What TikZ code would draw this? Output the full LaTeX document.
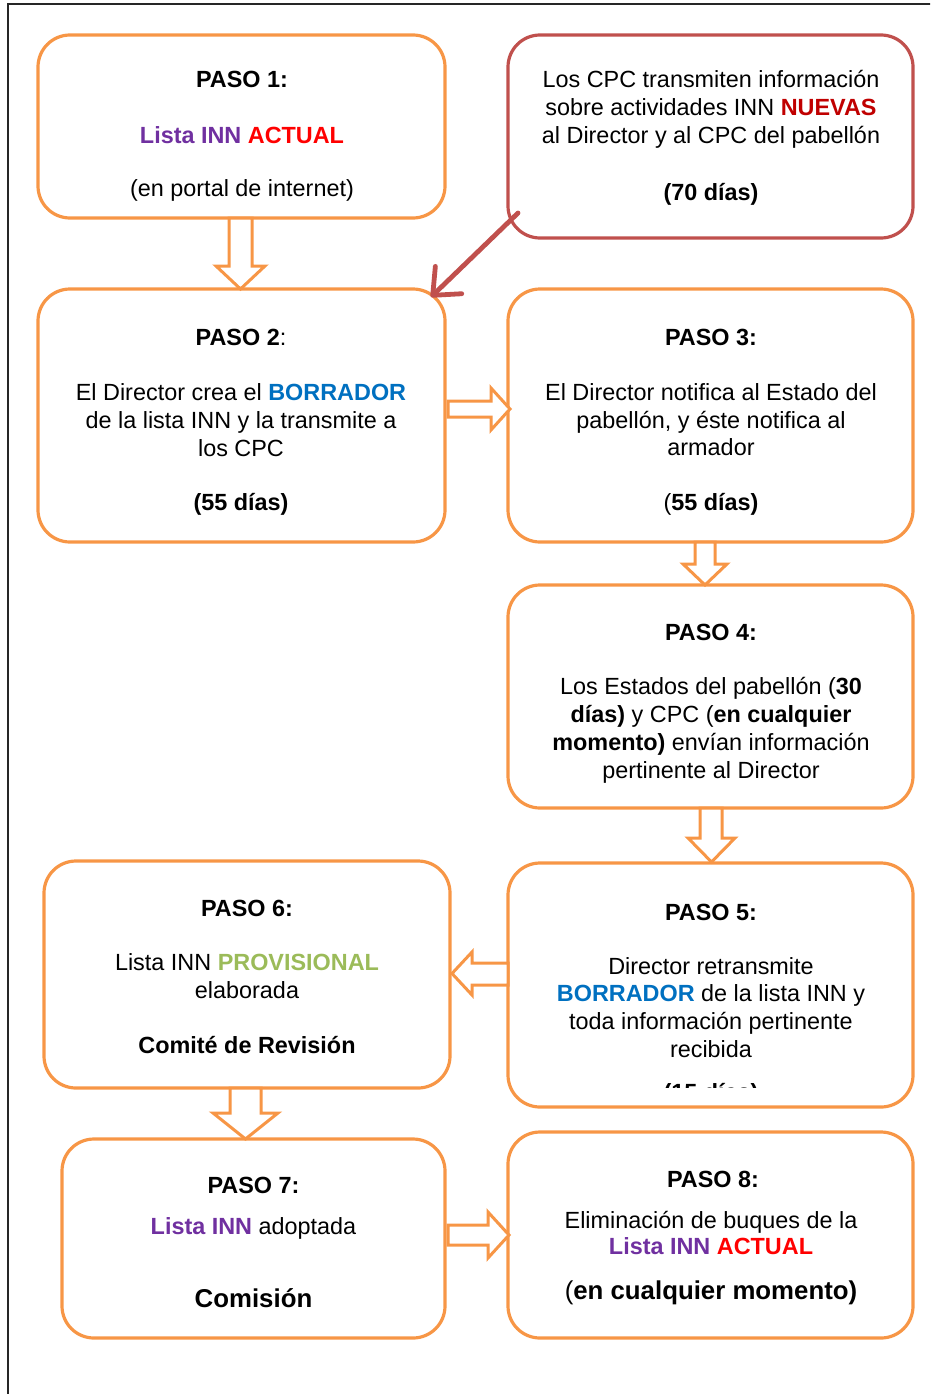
\documentclass[tikz,border=0pt]{standalone}
\usepackage{fontspec}
\setmainfont{Liberation Sans}
\usetikzlibrary{arrows.meta}
\definecolor{orng}{HTML}{F79646}
\definecolor{rbox}{HTML}{C0504D}
\definecolor{purp}{HTML}{7030A0}
\definecolor{brd}{HTML}{FF0000}
\definecolor{dred}{HTML}{C00000}
\definecolor{blu}{HTML}{0070C0}
\definecolor{grn}{HTML}{9BBB59}
\newcommand{\pu}[1]{\textcolor{purp}{\textbf{#1}}}
\newcommand{\rd}[1]{\textcolor{brd}{\textbf{#1}}}
\newcommand{\bl}[1]{\textcolor{blu}{\textbf{#1}}}
\tikzset{
  box/.style={draw=orng, line width=3.2pt, rounded corners=32pt, inner sep=0pt, minimum width=405pt},
  redbox/.style={box, draw=rbox},
  t/.style={anchor=base, inner sep=0pt, font=\fontsize{23.4}{28}\selectfont},
  tbig/.style={anchor=base, inner sep=0pt, font=\fontsize{25.8}{30}\selectfont},
  barrow/.style={draw=orng, fill=white, line width=3pt, line join=miter},
  redarrow/.style={draw=rbox, line width=4.8pt, line cap=round, -{Straight Barb[length=22pt,width=38pt,round]}}
}
\begin{document}
\begin{tikzpicture}[x=1pt,y=-1pt]
\useasboundingbox (0,0) rectangle (930,1394);
% outer frame
\begin{scope}
\clip (0,0) rectangle (930,1394);
\draw[line width=1.5pt, black!85] (8,4) rectangle (960,1430);
\end{scope}

% boxes
\node[box, minimum width=407pt, minimum height=183pt] (b1) at (241.5,126.5) {};
\node[redbox, minimum height=203pt] (rb) at (710.5,136.5) {};
\node[box, minimum width=407pt, minimum height=253pt] (b2) at (241.5,415.5) {};
\node[box, minimum height=253pt] (b3) at (710.5,415.5) {};
\node[box, minimum height=223pt] (b4) at (710.5,696.5) {};
\node[box, minimum height=244pt] (b5) at (710.5,985) {};
\node[box, minimum width=406pt, minimum height=227pt] (b6) at (247,974.5) {};
\node[box, minimum width=383pt, minimum height=199pt] (b7) at (253.5,1238.5) {};
\node[box, minimum height=206pt] (b8) at (710.5,1235) {};

% box 1
\node[t] (t1a) at (242,88) {\textbf{PASO 1:}};
\node[t] (t1b) at (242,143) {\pu{Lista INN} \rd{ACTUAL}};
\node[t] (t1c) at (242,196) {(en portal de internet)};

% red box
\node[t] (r1) at (711,88) {Los CPC transmiten información};
\node[t] (r2) at (711,116) {sobre actividades INN \textcolor{dred}{\textbf{NUEVAS}}};
\node[t] (r3) at (711,143) {al Director y al CPC del pabellón};
\node[t] (r4) at (711,200) {\textbf{(70 días)}};

% box 2
\node[t] (t2a) at (241,345) {\textbf{PASO 2}:};
\node[t] (t2b) at (241,400) {El Director crea el \bl{BORRADOR}};
\node[t] (t2c) at (241,428) {de la lista INN y la transmite a};
\node[t] (t2d) at (241,456) {los CPC};
\node[t] (t2e) at (241,510) {\textbf{(55 días)}};

% box 3
\node[t] (t3a) at (711,345) {\textbf{PASO 3:}};
\node[t] (t3b) at (711,400) {El Director notifica al Estado del};
\node[t] (t3c) at (711,428) {pabellón, y éste notifica al};
\node[t] (t3d) at (711,455) {armador};
\node[t] (t3e) at (711,510) {(\textbf{55 días)}};

% box 4
\node[t] (t4a) at (711,640) {\textbf{PASO 4:}};
\node[t] (t4b) at (711,694) {Los Estados del pabellón (\textbf{30}};
\node[t] (t4c) at (711,722) {\textbf{días)} y CPC (\textbf{en cualquier}};
\node[t] (t4d) at (711,750) {\textbf{momento)} envían información};
\node[t] (t4e) at (711,778) {pertinente al Director};

% box 5
\node[t] (t5a) at (711,920) {\textbf{PASO 5:}};
\node[t] (t5b) at (711,974) {Director retransmite};
\node[t] (t5c) at (711,1001) {\bl{BORRADOR} de la lista INN y};
\node[t] (t5d) at (711,1029) {toda información pertinente};
\node[t] (t5e) at (711,1057) {recibida};
\begin{scope}
\clip (520,1060) rectangle (900,1087);
\node[t] (t5f) at (711,1100) {\textbf{(15 días)}};
\end{scope}

% box 6
\node[t] (t6a) at (247,916) {\textbf{PASO 6:}};
\node[t] (t6b) at (247,970) {Lista INN \textcolor{grn}{\textbf{PROVISIONAL}}};
\node[t] (t6c) at (247,998) {elaborada};
\node[t] (t6d) at (247,1053) {\textbf{Comité de Revisión}};

% box 7
\node[t] (t7a) at (253.5,1193) {\textbf{PASO 7:}};
\node[t] (t7b) at (253.5,1234) {\pu{Lista INN} adoptada};
\node[tbig] (t7c) at (253.5,1307) {\textbf{Comisión}};

% box 8
\node[t] (t8a) at (713,1187) {\textbf{PASO 8:}};
\node[t] (t8b) at (711,1228) {Eliminación de buques de la};
\node[t] (t8c) at (711,1254) {\pu{Lista INN} \rd{ACTUAL}};
\node[tbig] (t8d) at (711,1299) {(\textbf{en cualquier momento)}};

% block arrows
\draw[barrow] (229,218) -- (229,266) -- (216,266) -- (240.5,289) -- (265,266) -- (252,266) -- (252,218) -- cycle;
\draw[barrow] (448,401) -- (491,401) -- (491,388) -- (510,409) -- (491,430) -- (491,417) -- (448,417) -- cycle;
\draw[barrow] (695,542) -- (695,564) -- (683,564) -- (705,585) -- (727,564) -- (715,564) -- (715,542) -- cycle;
\draw[barrow] (700,808) -- (700,838) -- (688,838) -- (711.5,862) -- (735,838) -- (722,838) -- (722,808) -- cycle;
\draw[barrow] (508,963) -- (472,963) -- (472,952) -- (452,973.5) -- (472,995) -- (472,985) -- (508,985) -- cycle;
\draw[barrow] (230,1088) -- (230,1113) -- (213,1113) -- (245.5,1139) -- (278,1113) -- (261,1113) -- (261,1088) -- cycle;
\draw[barrow] (448,1225) -- (488,1225) -- (488,1212) -- (509,1235) -- (488,1258) -- (488,1245) -- (448,1245) -- cycle;

% red arrow from red box to box 2
\coordinate (rstart) at (518,213);
\coordinate (rend) at (431,297);
\draw[redarrow] (rstart) -- (rend);
\end{tikzpicture}
\end{document}
